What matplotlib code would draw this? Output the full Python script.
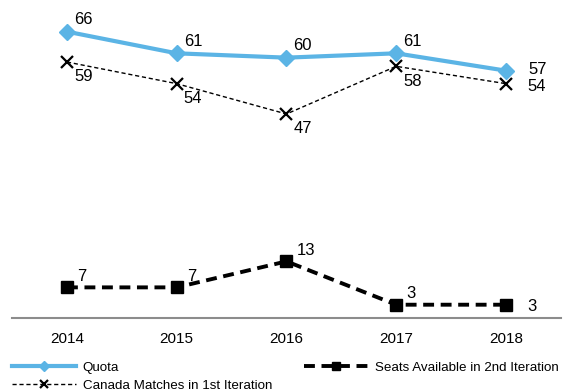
import matplotlib.pyplot as plt
import numpy as np

plt.rcParams['font.family'] = ['Liberation Sans', 'DejaVu Sans']

years = ['2014', '2015', '2016', '2017', '2018']
quota = [66, 61, 60, 61, 57]
canada = [59, 54, 47, 58, 54]
seats = [7, 7, 13, 3, 3]

x = np.arange(len(years))

fig = plt.figure(figsize=(5.68, 3.92), dpi=100)
ax = fig.add_axes([0.0213, 0.1895, 0.966, 0.774])

ax.plot(x, quota, color='#5BB4E5', lw=3, marker='D', ms=8, label='Quota')
ax.plot(x, canada, color='black', lw=1, ls=(0, (3, 2)), marker='x', ms=8,
        mew=1.6, label='Canada Matches in 1st Iteration')
ax.plot(x, seats, color='black', lw=2.8, ls=(0, (2.8, 1.7)), marker='s', ms=8,
        label='Seats Available in 2nd Iteration')

# value labels: last point sits to the right, the rest offset
def label_series(vals, off, last_off):
    for i, v in enumerate(vals):
        o = last_off if i == len(vals) - 1 else off
        ax.annotate(str(v), (i, v), xytext=o, textcoords='offset pixels',
                    ha='left', va='center', fontsize=12)

label_series(quota, (7, 12), (22, 1))
label_series(canada, (7, -15), (21, -3))
label_series(seats, (10, 11), (21, -2))

ax.set_xlim(-0.5, 4.5)
ax.set_ylim(0, 70)
ax.set_xticks(x)
ax.set_xticklabels(years, fontsize=11)
ax.set_yticks([])
ax.tick_params(axis='x', length=0, pad=10)
for s in ['top', 'right', 'left']:
    ax.spines[s].set_visible(False)
ax.spines['bottom'].set_color('#8c8c8c')
ax.spines['bottom'].set_linewidth(1.5)

leg = fig.legend(ncol=2, loc='lower left', bbox_to_anchor=(0.012, -0.014),
                 frameon=False, fontsize=9.6, handlelength=4.8,
                 handletextpad=0.5, columnspacing=2.4, labelspacing=0.45,
                 borderaxespad=0, markerscale=0.7)

fig.savefig('out.png', dpi=100)
